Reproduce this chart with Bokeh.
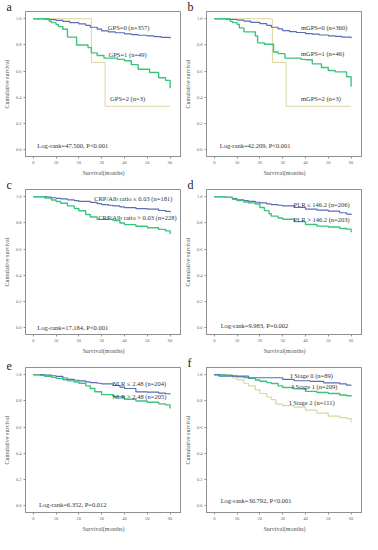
from bokeh.plotting import figure
from bokeh.layouts import column, row
from bokeh.models import Title, FixedTicker, Range1d, PrintfTickFormatter, Label
from bokeh.embed import file_html
from bokeh.resources import INLINE

# ---------------- data ----------------
x_ticks = [0, 10, 20, 30, 40, 50, 60]
y_ticks = [0.0, 0.2, 0.4, 0.6, 0.8, 1.0]
panel_letters = ["a", "b", "c", "d", "e", "f"]

# a: GPS
a_t0 = [0, 5, 7, 10, 13, 16, 20, 23, 25, 28, 30, 33, 36, 40, 43, 46, 50, 53, 56, 60]
a_s0 = [1.0, 0.997, 0.993, 0.988, 0.98, 0.97, 0.96, 0.95, 0.935, 0.92, 0.907, 0.90, 0.893, 0.884, 0.879, 0.874, 0.869, 0.864, 0.858, 0.85]
a_t1 = [0, 7, 8, 10, 11, 13, 15, 19, 24, 25.5, 28, 31, 37, 40, 43, 46, 51, 55, 58, 60]
a_s1 = [1.0, 0.98, 0.97, 0.955, 0.94, 0.92, 0.86, 0.80, 0.78, 0.74, 0.72, 0.70, 0.69, 0.68, 0.65, 0.615, 0.59, 0.55, 0.53, 0.47]
a_t2 = [0, 25.5, 31.5, 60]
a_s2 = [1.0, 0.667, 0.333, 0.333]
a_labels = ["GPS=0   (n=357)", "GPS=1   (n=49)", "GPS=2   (n=3)"]
a_stat = "Log-rank=47.500, P<0.001"

# b: mGPS
b_t0 = [0, 5, 7, 10, 13, 16, 20, 23, 25, 28, 30, 33, 36, 40, 43, 46, 50, 53, 56, 60]
b_s0 = [1.0, 0.997, 0.994, 0.99, 0.982, 0.972, 0.962, 0.95, 0.935, 0.922, 0.91, 0.902, 0.895, 0.887, 0.882, 0.876, 0.87, 0.865, 0.859, 0.852]
b_t1 = [0, 7, 8, 10, 11, 13, 18, 19, 22, 26, 28, 31, 38, 40, 43, 47, 50, 53, 58, 60]
b_s1 = [1.0, 0.98, 0.97, 0.957, 0.93, 0.90, 0.868, 0.816, 0.805, 0.746, 0.734, 0.70, 0.69, 0.687, 0.656, 0.628, 0.605, 0.595, 0.558, 0.482]
b_t2 = [0, 25.5, 31.5, 60]
b_s2 = [1.0, 0.667, 0.333, 0.333]
b_labels = ["mGPS=0   (n=360)", "mGPS=1   (n=46)", "mGPS=2   (n=3)"]
b_stat = "Log-rank=42.209, P<0.001"

# c: CRP/Alb ratio
c_t0 = [0, 6, 8, 10, 12, 15, 18, 20, 25, 28, 30, 33, 35, 38, 40, 45, 50, 55, 58, 60]
c_s0 = [1.0, 0.997, 0.992, 0.988, 0.984, 0.976, 0.97, 0.964, 0.957, 0.948, 0.94, 0.935, 0.93, 0.922, 0.917, 0.91, 0.905, 0.895, 0.888, 0.88]
c_t1 = [0, 5, 8, 10, 12, 15, 18, 20, 23, 25, 28, 35, 38, 40, 45, 50, 55, 58, 60]
c_s1 = [1.0, 0.99, 0.975, 0.964, 0.95, 0.93, 0.91, 0.893, 0.865, 0.846, 0.827, 0.818, 0.80, 0.787, 0.775, 0.763, 0.751, 0.74, 0.716]
c_labels = ["CRP/Alb ratio \u2264 0.03 (n=181)", "CRP/Alb ratio > 0.03 (n=228)"]
c_stat = "Log-rank=17.184, P<0.001"

# d: PLR
d_t0 = [0, 5, 8, 10, 13, 15, 18, 20, 23, 25, 28, 30, 35, 40, 45, 50, 55, 58, 60]
d_s0 = [1.0, 0.995, 0.985, 0.976, 0.97, 0.965, 0.958, 0.953, 0.945, 0.94, 0.935, 0.93, 0.918, 0.906, 0.898, 0.89, 0.878, 0.868, 0.86]
d_t1 = [0, 5, 8, 10, 13, 15, 18, 20, 22, 24, 25, 28, 30, 35, 40, 45, 50, 55, 58, 60]
d_s1 = [1.0, 0.995, 0.98, 0.97, 0.96, 0.953, 0.945, 0.918, 0.894, 0.87, 0.852, 0.838, 0.828, 0.81, 0.788, 0.776, 0.769, 0.758, 0.753, 0.73]
d_labels = ["PLR \u2264 146.2   (n=206)", "PLR > 146.2   (n=203)"]
d_stat = "Log-rank=9.983, P=0.002"

# e: NLR
e_t0 = [0, 5, 8, 10, 13, 15, 18, 20, 23, 25, 28, 30, 35, 38, 40, 45, 50, 55, 58, 60]
e_s0 = [1.0, 0.997, 0.992, 0.988, 0.975, 0.965, 0.958, 0.953, 0.945, 0.94, 0.935, 0.93, 0.918, 0.905, 0.895, 0.87, 0.867, 0.86, 0.855, 0.85]
e_t1 = [0, 3, 5, 8, 10, 13, 15, 18, 20, 23, 25, 27, 30, 35, 40, 45, 50, 55, 58, 60]
e_s1 = [1.0, 0.995, 0.988, 0.98, 0.972, 0.962, 0.953, 0.945, 0.935, 0.915, 0.895, 0.87, 0.848, 0.832, 0.813, 0.80, 0.79, 0.778, 0.77, 0.743]
e_labels = ["NLR \u2264 2.48   (n=204)", "NLR > 2.48 (n=205)"]
e_stat = "Log-rank=6.352, P=0.012"

# f: I Stage
f_t0 = [0, 2, 15, 30, 35, 42, 48, 55, 58, 60]
f_s0 = [1.0, 0.99, 0.977, 0.965, 0.954, 0.95, 0.938, 0.93, 0.92, 0.915]
f_t1 = [0, 5, 8, 10, 13, 15, 18, 20, 23, 25, 28, 30, 35, 40, 45, 50, 55, 58, 60]
f_s1 = [1.0, 0.996, 0.99, 0.984, 0.978, 0.972, 0.96, 0.95, 0.94, 0.933, 0.915, 0.903, 0.892, 0.873, 0.864, 0.857, 0.846, 0.84, 0.834]
f_t2 = [0, 3, 5, 8, 10, 13, 15, 18, 20, 23, 25, 27, 30, 35, 40, 45, 50, 55, 58, 60]
f_s2 = [1.0, 0.998, 0.995, 0.975, 0.96, 0.935, 0.915, 0.885, 0.857, 0.83, 0.81, 0.776, 0.765, 0.753, 0.73, 0.707, 0.684, 0.673, 0.666, 0.638]
f_labels = ["I Stage 0   (n=89)", "I Stage 1   (n=209)", "I Stage 2   (n=111)"]
f_stat = "Log-rank=30.792, P<0.001"

# ---------------- styling ----------------
BLUE = "#5a6cb6"
GREEN = "#3cc47c"
TAN = "#dcd5a0"
FRAME = "#8f8f8f"
SERIF = "Liberation Serif"
TXT = "#333333"


def make_panel(letter, curves, labels, label_pos, stat, stat_pos):
    p = figure(width=181, height=178, output_backend="svg", toolbar_location=None,
               x_range=Range1d(-3.4, 65), y_range=Range1d(-0.05, 1.055),
               min_border_left=0, min_border_right=0, min_border_top=0,
               min_border_bottom=0, title=None)
    p.add_layout(Title(text=letter, text_font=SERIF, text_font_size="12px",
                       text_font_style="normal", text_color="#222222",
                       align="left", offset=-19, standoff=-5), "above")
    p.grid.visible = False
    p.outline_line_color = FRAME
    p.outline_line_width = 1
    p.background_fill_color = "white"
    p.border_fill_color = "white"
    for ax in (p.xaxis[0], p.yaxis[0]):
        ax.axis_line_color = FRAME
        ax.major_tick_line_color = FRAME
        ax.major_tick_in = 0
        ax.major_tick_out = 2
        ax.minor_tick_line_color = None
        ax.major_label_text_font = SERIF
        ax.major_label_text_font_size = "4.5px"
        ax.major_label_text_color = "#666666"
        ax.major_label_standoff = 2
        ax.axis_label_text_font = SERIF
        ax.axis_label_text_font_size = "6px"
        ax.axis_label_text_font_style = "normal"
        ax.axis_label_text_color = "#555555"
        ax.axis_label_standoff = 3
    p.xaxis[0].ticker = FixedTicker(ticks=x_ticks)
    p.yaxis[0].ticker = FixedTicker(ticks=y_ticks)
    p.yaxis[0].formatter = PrintfTickFormatter(format="%.1f")
    p.xaxis[0].axis_label = "Survival(months)"
    p.yaxis[0].axis_label = "Cumulative survival"

    for (t, s, col, lw) in curves:
        p.step(t, s, mode="after", line_color=col, line_width=lw)

    for txt, (lx, ly) in zip(labels, label_pos):
        p.add_layout(Label(x=lx, y=ly, text=txt, text_font=SERIF, text_font_size="6.5px",
                           text_color=TXT, text_baseline="middle", text_align="left"))
    p.add_layout(Label(x=stat_pos[0], y=stat_pos[1], text=stat, text_font=SERIF,
                       text_font_size="6.5px", text_color=TXT, text_baseline="middle",
                       text_align="left"))
    return p


pa = make_panel(panel_letters[0],
                [(a_t2, a_s2, TAN, 1.0), (a_t0, a_s0, BLUE, 1.2), (a_t1, a_s1, GREEN, 1.4)],
                a_labels, [(32.7, 0.934), (33.0, 0.726), (33.7, 0.39)], a_stat, (1.8, 0.033))
pb = make_panel(panel_letters[1],
                [(b_t2, b_s2, TAN, 1.0), (b_t0, b_s0, BLUE, 1.2), (b_t1, b_s1, GREEN, 1.4)],
                b_labels, [(38.0, 0.93), (38.0, 0.734), (38.0, 0.39)], b_stat, (2.4, 0.035))
pc = make_panel(panel_letters[2],
                [(c_t0, c_s0, BLUE, 1.2), (c_t1, c_s1, GREEN, 1.4)],
                c_labels, [(26.7, 0.983), (28.5, 0.84)], c_stat, (1.8, 0.005))
pd_ = make_panel(panel_letters[3],
                 [(d_t0, d_s0, BLUE, 1.2), (d_t1, d_s1, GREEN, 1.4)],
                 d_labels, [(34.8, 0.94), (34.8, 0.83)], d_stat, (2.8, 0.019))
pe = make_panel(panel_letters[4],
                [(e_t0, e_s0, BLUE, 1.2), (e_t1, e_s1, GREEN, 1.4)],
                e_labels, [(34.7, 0.935), (34.7, 0.836)], e_stat, (2.5, 0.014))
pf = make_panel(panel_letters[5],
                [(f_t2, f_s2, TAN, 1.2), (f_t1, f_s1, GREEN, 1.4), (f_t0, f_s0, BLUE, 1.2)],
                f_labels, [(33.4, 0.995), (34.0, 0.908), (33.0, 0.79)], f_stat, (2.8, 0.039))

layout = column(row(pa, pb), row(pc, pd_), row(pe, pf))

open("out.html", "w").write(file_html(layout, INLINE))
